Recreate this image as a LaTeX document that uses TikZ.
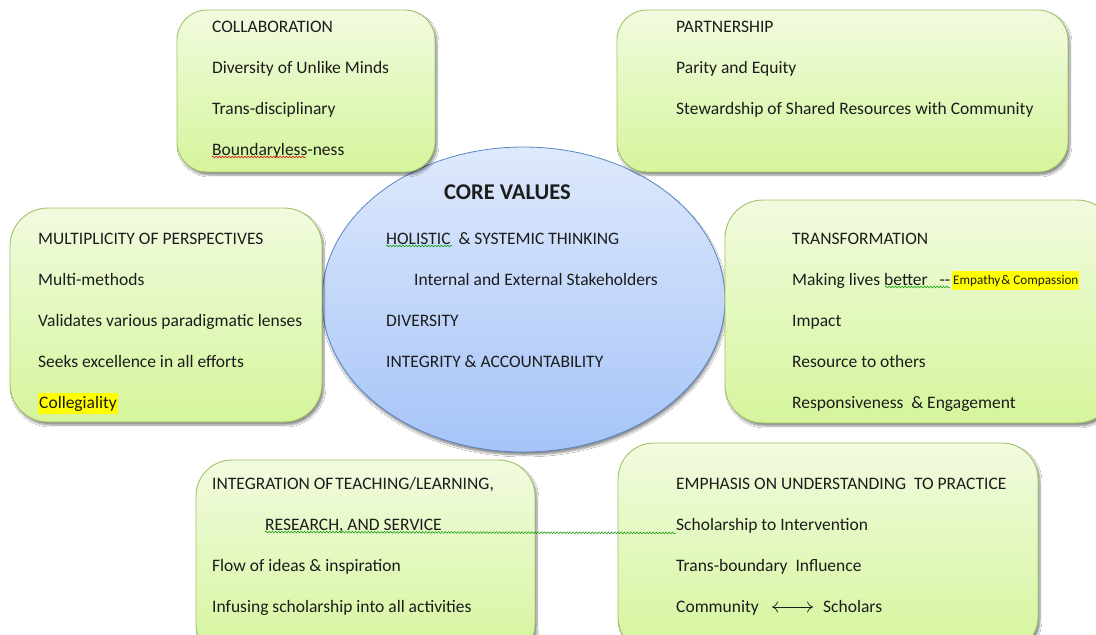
\documentclass[tikz,border=0pt]{standalone}
\usepackage{fontspec}
\setmainfont{Carlito}
\usetikzlibrary{shapes.geometric,shadows,shadows.blur,decorations.pathmorphing,arrows.meta}

\definecolor{boxtop}{HTML}{F1FBDF}
\definecolor{boxbottom}{HTML}{D5F59C}
\definecolor{boxline}{HTML}{A2C26A}
\definecolor{elltop}{HTML}{DEE9FC}
\definecolor{ellbottom}{HTML}{A6C4F8}
\definecolor{ellline}{HTML}{5A86C3}
\definecolor{ink}{HTML}{1C1C1C}
\definecolor{hilite}{HTML}{FFFF00}

\tikzset{
  greenbox/.style={rectangle, rounded corners=#1, draw=boxline, line width=0.9pt,
    top color=boxtop, bottom color=boxbottom, inner sep=0pt,
    blur shadow={shadow xshift=2pt, shadow yshift=-3pt, shadow blur steps=6, shadow opacity=45}},
  greenbox/.default=30pt,
  txt/.style={anchor=base west, inner sep=0pt, text=ink, font=\fontsize{17.5}{21}\selectfont},
  hl/.style={txt, fill=hilite, inner xsep=1pt, inner ysep=2.5pt},
  small/.style={font=\fontsize{13.2}{16}\selectfont},
  squiggle/.style={decorate, decoration={snake, amplitude=0.9pt, segment length=3.2pt}, line width=0.5pt},
}

\begin{document}
\begin{tikzpicture}[x=1pt,y=-1pt]
\useasboundingbox (0,0) rectangle (1096,635);
\fill[white] (0,0) rectangle (1096,635);

% central ellipse
\node[ellipse, draw=ellline, line width=0.8pt, top color=elltop, bottom color=ellbottom,
      minimum width=403pt, minimum height=305pt, inner sep=0pt,
      blur shadow={shadow xshift=1pt, shadow yshift=-3pt, shadow blur steps=6, shadow opacity=45}]
  (core) at (523.5,299.5) {};

% surrounding boxes
\node[greenbox, minimum width=258pt, minimum height=162pt] (collab) at (306,91) {};
\node[greenbox, minimum width=451pt, minimum height=162pt] (partner) at (842.5,91) {};
\node[greenbox=38pt, minimum width=312pt, minimum height=214pt] (multi) at (166,315) {};
\node[greenbox=38pt, minimum width=390pt, minimum height=223pt] (transf) at (920,311.5) {};
\node[greenbox=36pt, minimum width=339pt, minimum height=200pt] (integr) at (365.5,560) {};
\node[greenbox=36pt, minimum width=420pt, minimum height=210pt] (emph) at (828,548) {};

% core values text
\node[anchor=base west, inner sep=0pt, text=ink, font=\fontsize{22.5}{27}\selectfont\bfseries] (corehead) at (444,199) {CORE VALUES};
\node[txt] (holistic) at (386,244) {HOLISTIC\ \ \& SYSTEMIC THINKING};
\node[txt] (stake) at (414,285) {Internal and External Stakeholders};
\node[txt] (divers) at (386,326) {DIVERSITY};
\node[txt] (integ) at (386,367) {INTEGRITY \& ACCOUNTABILITY};

% collaboration
\node[txt] (c1) at (212,32) {COLLABORATION};
\node[txt] (c2) at (212,73) {Diversity of Unlike Minds};
\node[txt] (c3) at (212,114) {Trans-disciplinary};
\node[txt] (c4) at (212,155) {Boundaryless-ness};

% partnership
\node[txt] (p1) at (676,32) {PARTNERSHIP};
\node[txt] (p2) at (676,73) {Parity and Equity};
\node[txt] (p3) at (676,114) {Stewardship\ of Shared Resources with Community};

% multiplicity of perspectives
\node[txt] (m1) at (38,244) {MULTIPLICITY OF PERSPECTIVES};
\node[txt] (m2) at (38,285) {Multi-methods};
\node[txt] (m3) at (38,326) {Validates various paradigmatic lenses};
\node[txt] (m4) at (38,367) {Seeks excellence in all efforts};
\node[hl] (m5) at (38,408) {Collegiality};

% transformation
\node[txt] (t1) at (792,244) {TRANSFORMATION};
\node[txt] (t2) at (792,285) {Making lives better\ \ \ {-}{-}};
\node[hl, small, inner ysep=3.5pt] (t2b) at (952,284) {Empathy\kern1pt\& Compassion};
\node[txt] (t3) at (792,326) {Impact};
\node[txt] (t4) at (792,367) {Resource to others};
\node[txt] (t5) at (792,408) {Responsiveness\ \ \& Engagement};

% integration
\node[txt] (i1) at (212,489) {INTEGRATION OF\kern2pt TEACHING/LEARNING,};
\node[txt] (i2) at (265,530) {RESEARCH, AND SERVICE};
\node[txt] (i3) at (212,571) {Flow of ideas \& inspiration};
\node[txt] (i4) at (212,612) {Infusing scholarship into all activities};

% emphasis on understanding to practice
\node[txt] (e1) at (676,489) {EMPHASIS ON UNDERSTANDING\ \ TO PRACTICE};
\node[txt] (e2) at (676,530) {Scholarship to Intervention};
\node[txt] (e3) at (676,571) {Trans-boundary\ \ Influence};
\node[txt] (e4) at (676,612) {Community};
\node[txt] (e5) at (823,612) {Scholars};
\draw[{To[length=6pt,width=11pt]}-{To[length=6pt,width=11pt]}, ink, line width=0.7pt]
  ([xshift=13pt,yshift=5pt]e4.base east) -- ([xshift=-10pt,yshift=5pt]e5.base west);

% proofing marks under words
\draw[squiggle, red!85!black] ([yshift=-2pt]c4.base west) -- ++(94pt,0);
\draw[squiggle, green!60!black] ([yshift=-2pt]holistic.base west) -- ++(66pt,0);
\draw[squiggle, green!60!black] (885,287) -- (950,287);
\draw[squiggle, green!60!black] ([yshift=-2pt]i2.base west) -- ([yshift=-3pt]e2.base west);
\end{tikzpicture}
\end{document}
